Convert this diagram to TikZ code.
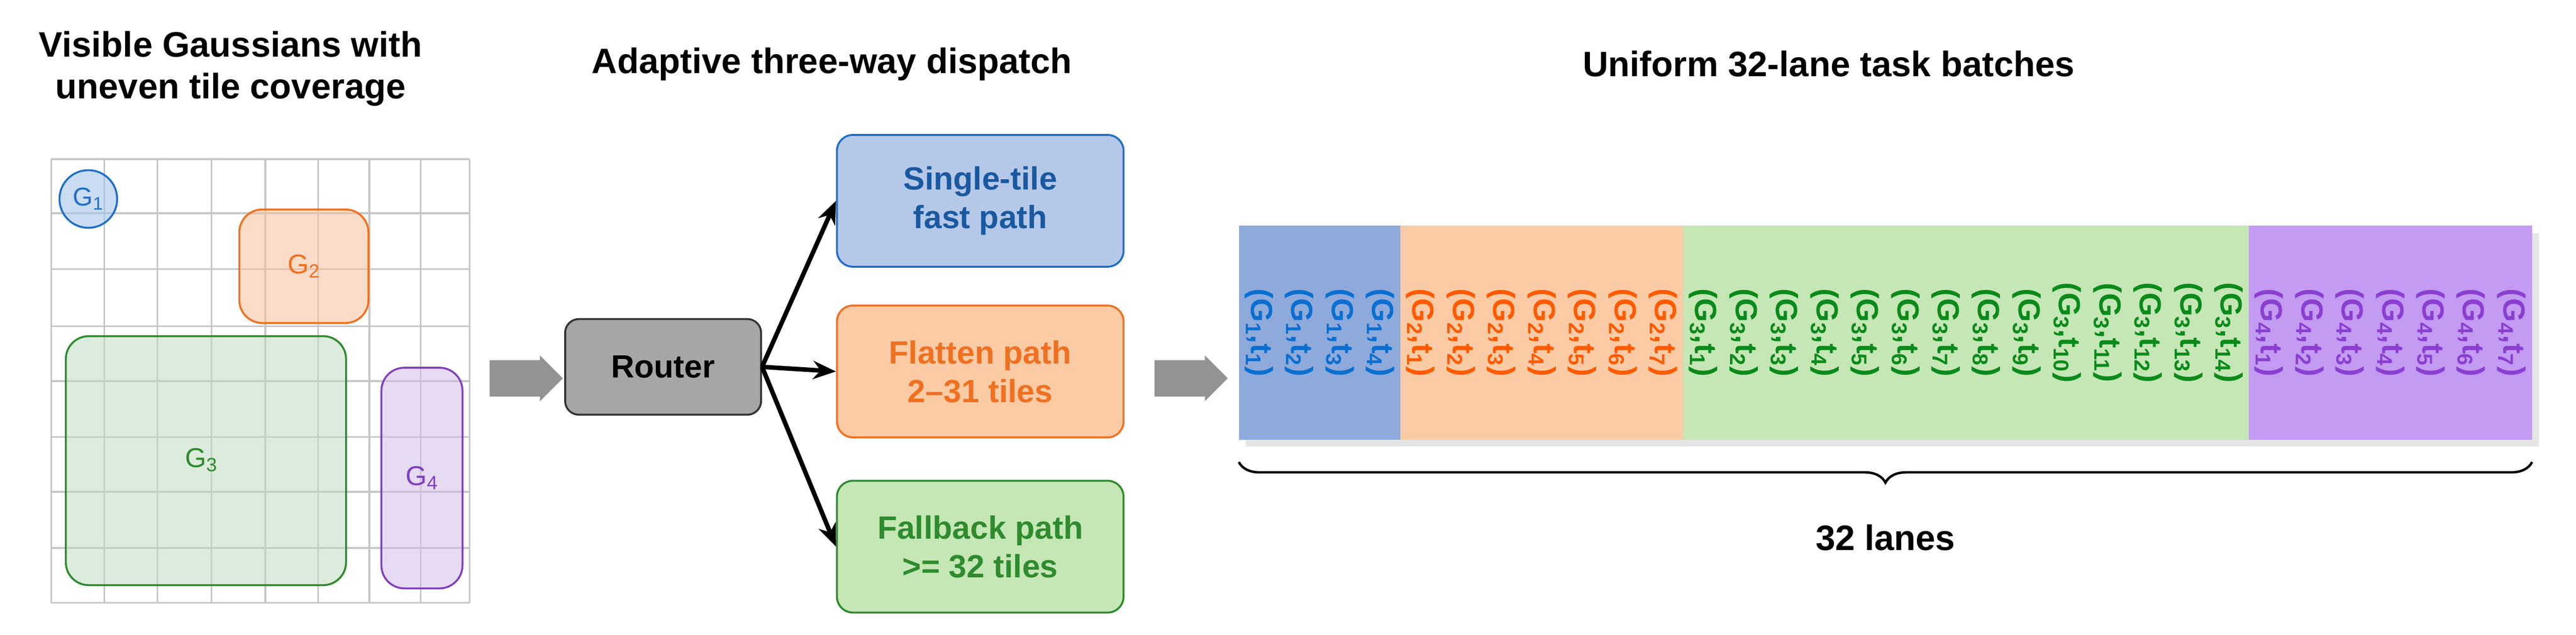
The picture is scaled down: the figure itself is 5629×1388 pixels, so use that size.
\documentclass[tikz,border=0pt]{standalone}
\usepackage{fontspec}
\setmainfont{Liberation Sans}
\usetikzlibrary{shapes.arrows,decorations.pathreplacing,arrows.meta}
\definecolor{cB}{HTML}{1F6FC8}\definecolor{cO}{HTML}{F07020}\definecolor{cG}{HTML}{2E8B2E}\definecolor{cP}{HTML}{8040C0}
\definecolor{lB}{HTML}{8EAADB}\definecolor{lO}{HTML}{FBCBA5}\definecolor{lG}{HTML}{C5E6B5}\definecolor{lP}{HTML}{C39BF2}
\definecolor{tB}{HTML}{0B6FD0}\definecolor{tO}{HTML}{FF5A00}\definecolor{tG}{HTML}{0A8A1A}\definecolor{tP}{HTML}{8A3FD0}
\begin{document}
\begin{tikzpicture}[x=0.01cm,y=-0.01cm,
 title/.style={font=\fontsize{22}{26}\selectfont\bfseries,align=center},
 gshape/.style={line width=1.2pt,rounded corners=0.5cm,fill opacity=0.55,text opacity=1},
 path/.style={draw,line width=1.2pt,rounded corners=0.35cm,minimum width=6.26cm,minimum height=2.88cm,align=center,font=\fontsize{20}{24}\selectfont\bfseries},
 garrow/.style={single arrow,fill=gray!85,draw=none,minimum height=1.6cm,minimum width=1.0cm,single arrow head extend=0.08cm,inner sep=0.3cm},
 barrow/.style={line width=2.8pt,-{Stealth[length=0.5cm,width=0.4cm]}},
 lane/.style={rotate=-90,font=\fontsize{19}{22}\selectfont\bfseries,inner sep=0pt}]
\useasboundingbox (0,0) rectangle (5629,1388);
% titles
\node[title] (t1) at (504,150) {Visible Gaussians with\\uneven tile coverage};
\node[title] (t2) at (1818,140) {Adaptive three-way dispatch};
\node[title] (t3) at (3996,140) {Uniform 32-lane task batches};
% grid
\foreach \x in {112,228,344,462,580,695,807,919,1026} \draw[gray!45,line width=1.1pt] (\x,348) -- (\x,1318);
\foreach \y in {348,466,588,713,833,955,1075,1198,1318} \draw[gray!45,line width=1.1pt] (112,\y) -- (1026,\y);
\node[draw=cB,fill=cB!40,line width=1.2pt,circle,minimum size=1.26cm,fill opacity=0.6,text opacity=1,text=cB,font=\fontsize{16}{18}\selectfont] (g1) at (193,435) {G\textsubscript{1}};
\node[draw=cO,fill=cO!45,gshape,text=cO,font=\fontsize{17}{18}\selectfont,minimum width=2.82cm,minimum height=2.48cm] (g2) at (664,582) {G\textsubscript{2}};
\node[draw=cG,fill=cG!30,gshape,minimum width=6.12cm,minimum height=5.44cm] (g3) at (450,1007) {};
\node[text=cG,font=\fontsize{17}{18}\selectfont] (g3l) at (440,1005) {G\textsubscript{3}};
\node[draw=cP,fill=cP!35,gshape,text=cP,font=\fontsize{17}{18}\selectfont,minimum width=1.77cm,minimum height=4.82cm] (g4) at (922,1045) {G\textsubscript{4}};
% grey arrows
\node[garrow] (a1) at (1130,827) {};
\node[garrow] (a2) at (2583,827) {};
% router
\node[draw=black!80,fill=gray!70,line width=1.2pt,rounded corners=0.3cm,minimum width=4.28cm,minimum height=2.09cm,font=\fontsize{20}{24}\selectfont\bfseries] (r) at (1449,802) {Router};
\node[path,draw=cB,fill=lB!65,text=cB!80!black] (p1) at (2142,439) {Single-tile\\fast path};
\node[path,draw=cO,fill=lO,text=cO] (p2) at (2142,812) {Flatten path\\2–31 tiles};
\node[path,draw=cG,fill=lG,text=cG] (p3) at (2142,1195) {Fallback path\\>= 32 tiles};
\draw[barrow] (r.east) -- (p1.west);
\draw[barrow] (r.east) -- (p2.west);
\draw[barrow] (r.east) -- (p3.west);
% lanes
\fill[gray!20] (2722,510) rectangle (5548,976);
\fill[lB] (2707,493) rectangle (3060,961);
\fill[lO] (3060,493) rectangle (3678,961);
\fill[lG] (3678,493) rectangle (4914,961);
\fill[lP] (4914,493) rectangle (5533,961);
\foreach \i in {1,...,4}{\node[lane,text=tB] (l1\i) at ({2707+88.3*(\i-0.5)},727) {(G\textsubscript{1},t\textsubscript{\i})};}
\foreach \i in {1,...,7}{\node[lane,text=tO] (l2\i) at ({3060+88.3*(\i-0.5)},727) {(G\textsubscript{2},t\textsubscript{\i})};}
\foreach \i in {1,...,14}{\node[lane,text=tG] (l3\i) at ({3678+88.3*(\i-0.5)},727) {(G\textsubscript{3},t\textsubscript{\i})};}
\foreach \i in {1,...,7}{\node[lane,text=tP] (l4\i) at ({4914+88.3*(\i-0.5)},727) {(G\textsubscript{4},t\textsubscript{\i})};}
\coordinate (bl) at (2707,1010);
\coordinate (br) at (5533,1010);
\draw[line width=1.5pt,decorate,decoration={brace,mirror,amplitude=0.45cm}] (bl) -- (br);
\node[font=\fontsize{22}{26}\selectfont\bfseries] (lab) at (4120,1175) {32 lanes};
\end{tikzpicture}
\end{document}
